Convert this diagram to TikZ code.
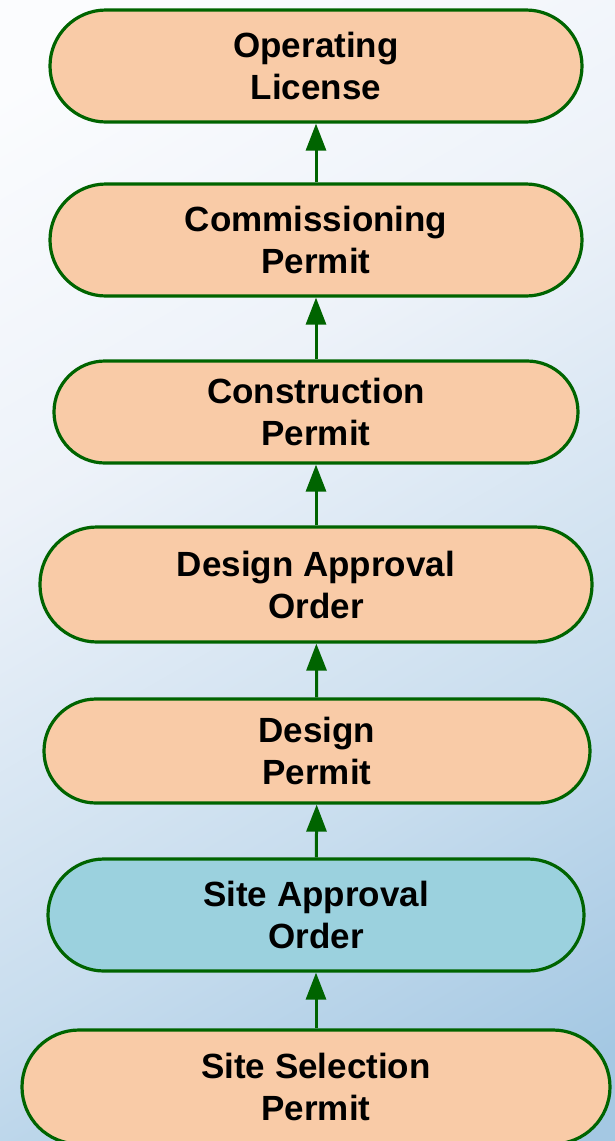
\documentclass[tikz,border=0pt]{standalone}
\usepackage{fontspec}
\setmainfont{Liberation Sans}
\usetikzlibrary{arrows.meta}
\definecolor{peach}{HTML}{F9CBA7}
\definecolor{teal}{HTML}{9BD1DE}
\definecolor{edge}{HTML}{006400}
\definecolor{bgtop}{HTML}{FBFCFE}
\definecolor{bgmid}{HTML}{EDF2F9}
\definecolor{bglow}{HTML}{C8DDEE}
\definecolor{bgbot}{HTML}{A4C8E3}
\pgfdeclareverticalshading{bgshade}{100bp}{color(0bp)=(bgbot); color(22bp)=(bgbot); color(38bp)=(bglow); color(60bp)=(bgmid); color(78bp)=(bgtop); color(100bp)=(bgtop)}
\tikzset{
  pill/.style={draw=edge, line width=3.2pt, fill=peach, align=center,
    font=\fontsize{35}{42}\selectfont\bfseries, inner sep=0pt},
  link/.style={draw=edge, line width=3pt, -{Triangle[width=20pt,length=27pt]}}
}
\begin{document}
\begin{tikzpicture}[x=1pt,y=-1pt]
\useasboundingbox (0,0) rectangle (615,1141);
\clip (0,0) rectangle (615,1141);
\begin{scope}[yscale=-1]
\shade[shading=bgshade, shading angle=30] (-60,-1161) rectangle (675,20);
\end{scope}
\node[pill, minimum width=532pt, minimum height=112pt, rounded corners=56pt] (ol) at (316,66) {Operating\\License};
\node[pill, minimum width=532pt, minimum height=112pt, rounded corners=56pt] (cp) at (316,240) {Commissioning\\Permit};
\node[pill, minimum width=524pt, minimum height=102pt, rounded corners=51pt] (cn) at (316,412) {Construction\\Permit};
\node[pill, minimum width=552pt, minimum height=115pt, rounded corners=57pt] (dao) at (316,584.5) {Design Approval\\Order};
\node[pill, minimum width=546pt, minimum height=104pt, rounded corners=52pt] (dp) at (317,751) {Design\\Permit};
\node[pill, fill=teal, minimum width=536pt, minimum height=112pt, rounded corners=56pt] (sao) at (316,915) {Site Approval\\Order};
\node[pill, minimum width=588pt, minimum height=114pt, rounded corners=57pt] (ssp) at (316,1087) {Site Selection\\Permit};
\draw[link] (cp) -- (ol);
\draw[link] (cn) -- (cp);
\draw[link] (dao) -- (cn);
\draw[link] (dp) -- (dao);
\draw[link] (sao) -- (dp);
\draw[link] (ssp) -- (sao);
\end{tikzpicture}
\end{document}
